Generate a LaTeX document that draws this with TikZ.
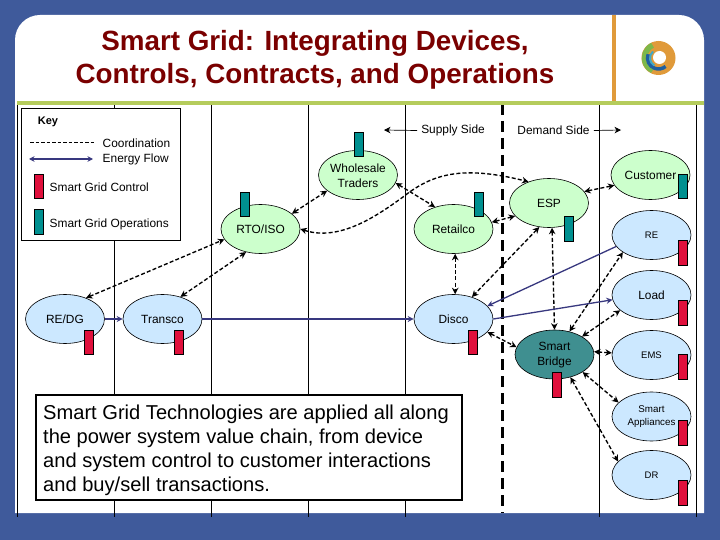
\documentclass[tikz,border=0pt]{standalone}
\usepackage{fontspec}
\setmainfont{Liberation Sans}
\usetikzlibrary{shapes.geometric,arrows.meta}
\definecolor{bgblue}{HTML}{3F5A9B}
\definecolor{titlered}{HTML}{7A0000}
\definecolor{barolive}{HTML}{B5CC5C}
\definecolor{barorange}{HTML}{E09A3A}
\definecolor{ellgreen}{HTML}{CCFFCC}
\definecolor{ellblue}{HTML}{CCE8FF}
\definecolor{ellteal}{HTML}{3F8F90}
\definecolor{barteal}{HTML}{009090}
\definecolor{barred}{HTML}{E0103C}
\definecolor{flowblue}{HTML}{38387F}
\definecolor{logogreen}{HTML}{7DB84A}
\definecolor{logoblue}{HTML}{1F5FA0}
\definecolor{logocyan}{HTML}{3FA9C8}
\tikzset{
  ell/.style={ellipse,draw=black,line width=.6pt,minimum width=79pt,minimum height=49pt,inner sep=0pt,align=center,font=\fontsize{11.9}{15}\selectfont},
  gell/.style={ell,fill=ellgreen},
  bell/.style={ell,fill=ellblue},
  tbar/.style={rectangle,draw=black,line width=.5pt,fill=barteal,minimum width=8.5pt,minimum height=24.5pt,inner sep=0pt},
  rbar/.style={rectangle,draw=black,line width=.5pt,fill=barred,minimum width=8.5pt,minimum height=24.5pt,inner sep=0pt},
  gridline/.style={line width=.6pt,black},
  coord/.style={line width=1.35pt,dash pattern=on 4pt off 2.2pt,{Stealth[length=6.5pt,width=6.5pt]}-{Stealth[length=6.5pt,width=6.5pt]}},
  flow/.style={line width=1.3pt,flowblue,-{Stealth[length=6pt,width=6pt]}},
  lab/.style={font=\fontsize{11.9}{13}\selectfont,inner sep=0pt},
  note/.style={line width=.7pt,-{Stealth[length=6.5pt,width=6.5pt]}}
}
\begin{document}
\begin{tikzpicture}[x=1pt,y=-1pt]
\useasboundingbox (0,0) rectangle (720,540);
\fill[bgblue] (0,0) rectangle (720,540);
% panel
\fill[white] (15,513) -- (15,40) arc[start angle=180,delta angle=90,radius=25] -- (679,15) arc[start angle=270,delta angle=90,radius=25] -- (704,513) -- cycle;
% grid
\foreach \gx in {17.5,114.5,211.5,308.5,405.5,599.5,696.5}{
  \draw[gridline] (\gx,104) -- (\gx,517);
}
\draw[line width=3.2pt,dash pattern=on 11pt off 6pt] (502.5,104) -- (502.5,513);
\fill[barolive] (17,101.5) rectangle (704,105.5);
\fill[barorange] (611.5,15) rectangle (616,101);
% title
\node[font=\fontsize{27.8}{33}\selectfont\bfseries,text=titlered,align=center,inner sep=0pt] (title) at (315,60) {Smart Grid: Integrating Devices,\\Controls, Contracts, and Operations};
% logo
\fill[barorange] (658.5,58) circle[radius=17];
\draw[line width=5.5pt,color=logogreen] (658.5,58) ++(-115:14) arc[start angle=-115,delta angle=-130,radius=14];
\draw[line width=3.5pt,color=logoblue] (658.5,58) ++(-160:11) arc[start angle=-160,delta angle=-150,radius=11];
\draw[line width=2pt,color=logocyan] (658.5,58) ++(-130:8.5) arc[start angle=-130,delta angle=-110,radius=8.5];
\fill[white] (659.5,57.5) circle[radius=6.5];
% key
\node[draw=black,fill=white,line width=.7pt,minimum width=159pt,minimum height=132pt,inner sep=0pt] (keybox) at (101,174) {};
\node[lab,font=\fontsize{11}{13}\selectfont\bfseries] (keytitle) at (48,122) {Key};
\coordinate (ka) at (30,142); \coordinate (kb) at (95,142);
\coordinate (kc) at (29,159); \coordinate (kd) at (93,159);
\draw[line width=.6pt,dash pattern=on 3.5pt off 2pt] (ka) -- (kb);
\draw[line width=1.3pt,flowblue,{Stealth[length=5.5pt,width=5.5pt]}-{Stealth[length=5.5pt,width=5.5pt]}] (kc) -- (kd);
\node[lab,anchor=west] (kcoord) at (102.5,143) {Coordination};
\node[lab,anchor=west] (kflow) at (102.5,159) {Energy Flow};
\node[lab,anchor=west] (kctrl) at (49.5,187.5) {Smart Grid Control};
\node[lab,anchor=west] (kops) at (49.5,224) {Smart Grid Operations};
\node[rbar] (kr) at (38.5,186.5) {};
\node[tbar] (kt) at (38.5,222) {};
% supply / demand
\node[lab] (supply) at (453,130.5) {Supply Side};
\node[lab] (demand) at (553.5,130.5) {Demand Side};
\coordinate (sb) at (384,130);
\coordinate (db) at (621,130);
\draw[note] (supply.west) ++(-4,0) -- (sb);
\draw[note] (demand.east) ++(4,0) -- (db);
% ellipses
\node[bell] (redg) at (65,319) {RE/DG};
\node[bell] (transco) at (162.5,319) {Transco};
\node[gell] (rto) at (260.5,229) {RTO/ISO};
\node[gell] (whole) at (358,175) {};
\node[lab,align=center,font=\fontsize{11.9}{15}\selectfont] (wholetext) at (358,175.5) {Wholesale\\Traders};
\node[gell] (retail) at (453.5,229) {Retailco};
\node[gell] (esp) at (549,203) {ESP};
\node[gell] (cust) at (650.5,175) {Customer};
\node[bell,font=\fontsize{9.5}{12}\selectfont] (re) at (651.5,235) {RE};
\node[bell] (load) at (651.5,295) {Load};
\node[bell] (disco) at (453.5,319) {Disco};
\node[ell,fill=ellteal] (bridge) at (554.5,354.5) {};
\node[lab,align=center,font=\fontsize{11.9}{15}\selectfont] (bridgetext) at (554.5,355.5) {Smart\\Bridge};
\node[bell,font=\fontsize{9.5}{12}\selectfont] (ems) at (651.5,355) {EMS};
\node[bell] (appl) at (651.5,416.5) {};
\node[lab,align=center,font=\fontsize{9.8}{12.5}\selectfont] (appltext) at (651.5,416.5) {Smart\\Appliances};
\node[bell,font=\fontsize{9.5}{12}\selectfont] (dr) at (651.5,475) {DR};
% coordination connectors
\draw[coord] (redg.45) -- (rto.196);
\draw[coord] (transco.51) -- (rto.238);
\draw[coord] (rto.26) -- (whole.207);
\draw[coord] (rto.0) .. controls (340,242) and (378,215) .. (403,197) .. controls (432,174) and (462,165) .. (esp.134);
\draw[coord] (whole.348) -- (retail.130);
\draw[coord] (retail.10) -- (esp.201);
\draw[coord] (esp.18) -- (cust.196);
\draw[coord] (retail.274) -- (disco.86);
\draw[coord] (esp.248) -- (disco.50);
\draw[coord] (esp.277) -- (bridge.90);
\draw[coord] (bridge.57) -- (re.211);
\draw[coord] (bridge.33) -- (load.206);
\draw[coord] (bridge.4) -- (ems.177);
\draw[coord] (bridge.328) -- (appl.157);
\draw[coord] (bridge.305) -- (dr.158);
\draw[coord] (disco.339) -- (bridge.169);
% energy flow
\draw[flow] (redg.east) -- (transco.west);
\draw[flow] (transco.east) -- (disco.west);
\draw[flow] (re.198) -- (disco.21);
\draw[flow] (disco.0) -- (load.187);
% bars
\node[rbar] (b1) at (88.5,342) {};
\node[rbar] (b2) at (178.5,342) {};
\node[tbar] (b3) at (244.5,204.5) {};
\node[tbar] (b4) at (358.5,144.5) {};
\node[tbar] (b5) at (478.5,204.5) {};
\node[tbar] (b6) at (568.5,228.5) {};
\node[tbar] (b7) at (682.5,186.5) {};
\node[rbar] (b8) at (682.5,252.5) {};
\node[rbar] (b9) at (682.5,312.5) {};
\node[rbar] (b10) at (472.5,342) {};
\node[rbar] (b11) at (556.5,384.5) {};
\node[rbar] (b12) at (682.5,366.5) {};
\node[rbar] (b13) at (682.5,432.5) {};
\node[rbar] (b14) at (682.5,492.5) {};
% text box
\node[draw=black,fill=white,line width=1.5pt,minimum width=426pt,minimum height=105pt,inner sep=0pt] (box) at (249,447.5) {};
\node[anchor=north west,align=left,inner sep=0pt,font=\fontsize{20.1}{24}\selectfont] (boxtext) at (43,405) {Smart Grid Technologies are applied all along\\the power system value chain, from device\\and system control to customer interactions\\and buy/sell transactions.};
\end{tikzpicture}
\end{document}
